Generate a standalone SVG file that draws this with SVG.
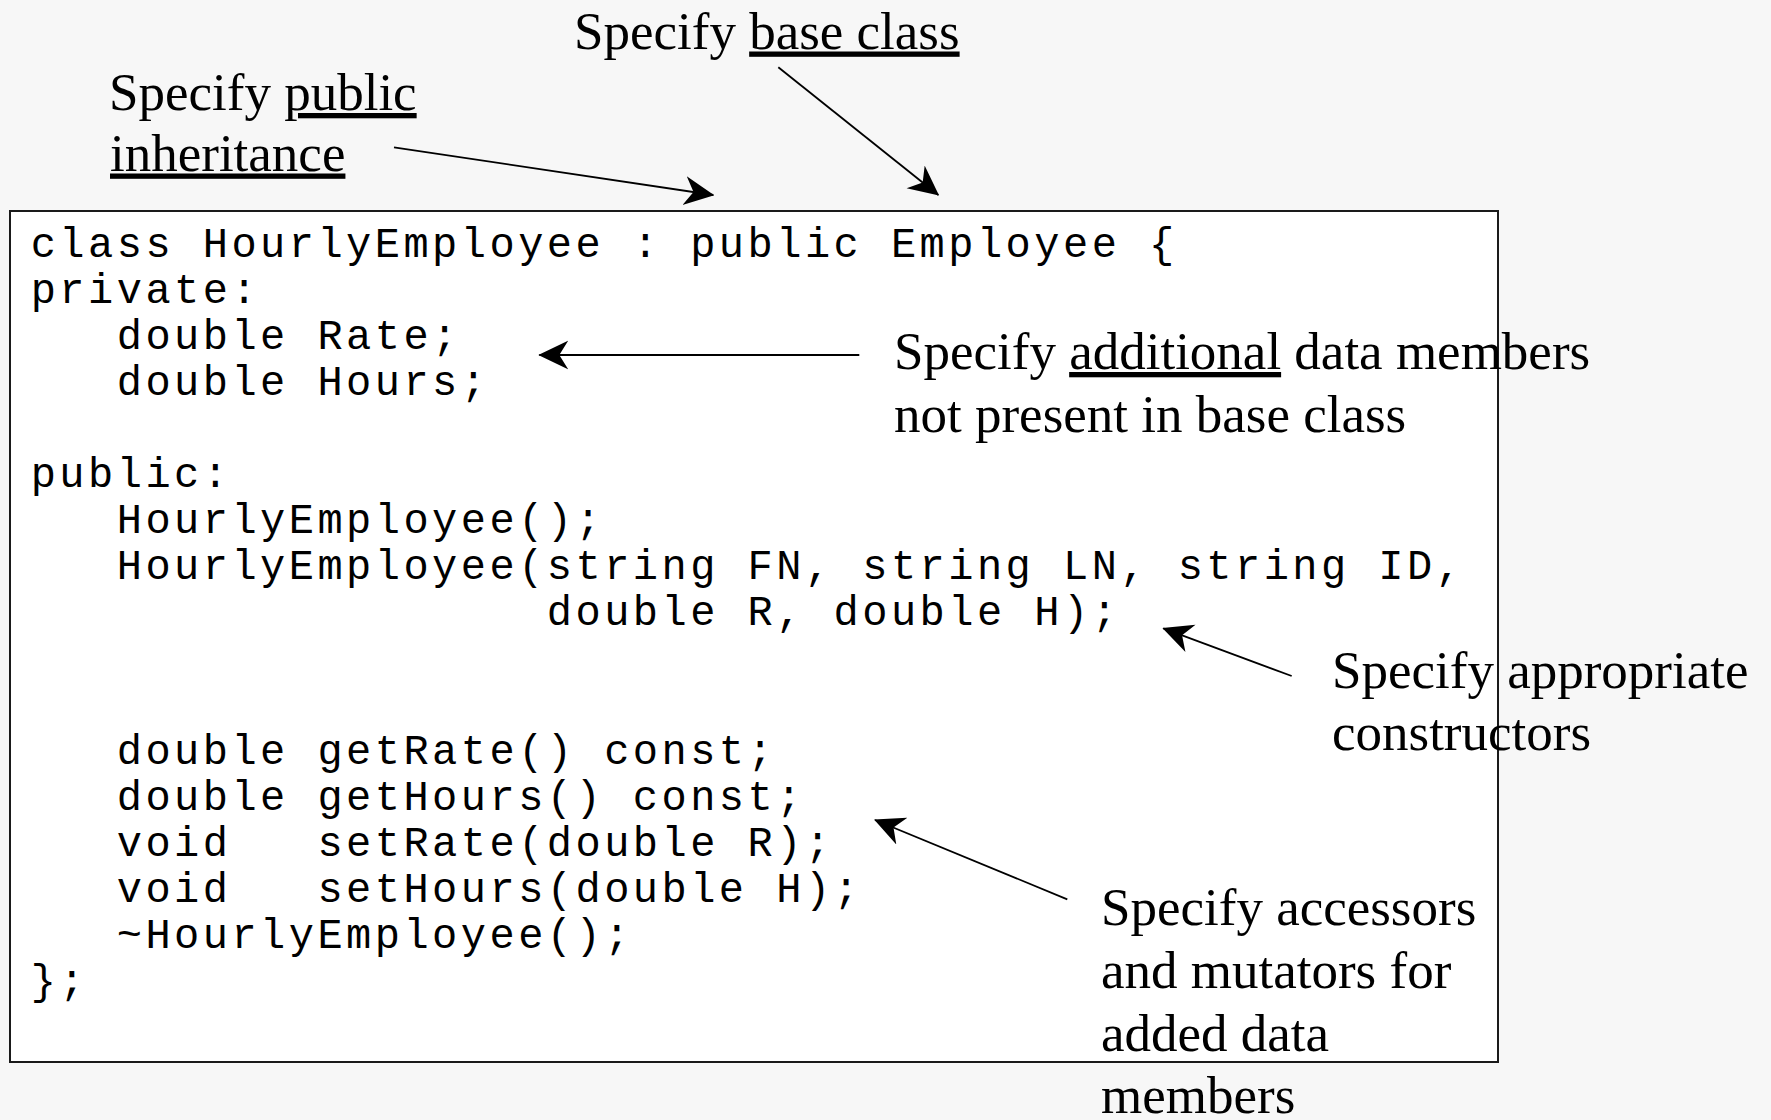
<svg xmlns="http://www.w3.org/2000/svg" width="1771" height="1120" viewBox="0 0 1771 1120">
  <style>
    .code { font-family: "Liberation Mono", "Courier New", monospace; font-size: 42px; letter-spacing: 3.47px; fill: #000; white-space: pre; }
    .label { font-family: "Liberation Serif", "Times New Roman", serif; font-size: 53px; fill: #000; }
    .u { text-decoration: underline; }
    .conn { stroke: #000; stroke-width: 1.8; fill: none; marker-end: url(#head); }
  </style>
  <defs>
    <marker id="head" markerUnits="userSpaceOnUse" viewBox="0 -15 30 30" markerWidth="30" markerHeight="30" refX="29" refY="0" orient="auto">
      <path d="M30,0 L0,-14.5 L9,0 L0,14.5 Z" fill="#000"/>
    </marker>
  </defs>
  <rect x="0" y="0" width="1771" height="1120" fill="#f7f7f7"/>

  <g id="class-box">
    <rect x="10" y="211" width="1488" height="851" fill="#ffffff" stroke="#1a1a1a" stroke-width="2"/>
    <text class="code" xml:space="preserve">
      <tspan x="30.7" y="256.5">class HourlyEmployee : public Employee {</tspan>
      <tspan x="30.7" y="302.6">private:</tspan>
      <tspan x="30.7" y="348.7">   double Rate;</tspan>
      <tspan x="30.7" y="394.8">   double Hours;</tspan>
      <tspan x="30.7" y="487">public:</tspan>
      <tspan x="30.7" y="533.1">   HourlyEmployee();</tspan>
      <tspan x="30.7" y="579.2">   HourlyEmployee(string FN, string LN, string ID,</tspan>
      <tspan x="30.7" y="625.3">                  double R, double H);</tspan>
      <tspan x="30.7" y="763.6">   double getRate() const;</tspan>
      <tspan x="30.7" y="809.7">   double getHours() const;</tspan>
      <tspan x="30.7" y="855.8">   void   setRate(double R);</tspan>
      <tspan x="30.7" y="901.9">   void   setHours(double H);</tspan>
      <tspan x="30.7" y="948">   ~HourlyEmployee();</tspan>
      <tspan x="30.7" y="994.1">};</tspan>
    </text>
  </g>

  <g id="label-base-class">
    <text class="label" x="574" y="48.5">Specify <tspan class="u">base class</tspan></text>
  </g>

  <g id="label-public-inheritance">
    <text class="label" x="109" y="110">Specify <tspan class="u">public</tspan></text>
    <text class="label" x="110" y="170.5"><tspan class="u">inheritance</tspan></text>
  </g>

  <g id="label-additional">
    <text class="label" x="894" y="369">Specify <tspan class="u">additional</tspan> data members</text>
    <text class="label" x="894" y="432">not present in base class</text>
  </g>

  <g id="label-constructors">
    <text class="label" x="1332" y="688">Specify appropriate</text>
    <text class="label" x="1332" y="750">constructors</text>
  </g>

  <g id="label-accessors">
    <text class="label" x="1101" y="925">Specify accessors</text>
    <text class="label" x="1101" y="988">and mutators for</text>
    <text class="label" x="1101" y="1051">added data</text>
    <text class="label" x="1101" y="1113">members</text>
  </g>

  <g id="connectors">
    <line class="conn" x1="394" y1="147.3" x2="713.3" y2="195"/>
    <line class="conn" x1="778.3" y1="67.3" x2="938.3" y2="195"/>
    <line class="conn" x1="859.3" y1="355" x2="539.3" y2="355"/>
    <line class="conn" x1="1291.7" y1="676" x2="1163.3" y2="628.3"/>
    <line class="conn" x1="1067.3" y1="899.3" x2="875" y2="820"/>
  </g>
</svg>
